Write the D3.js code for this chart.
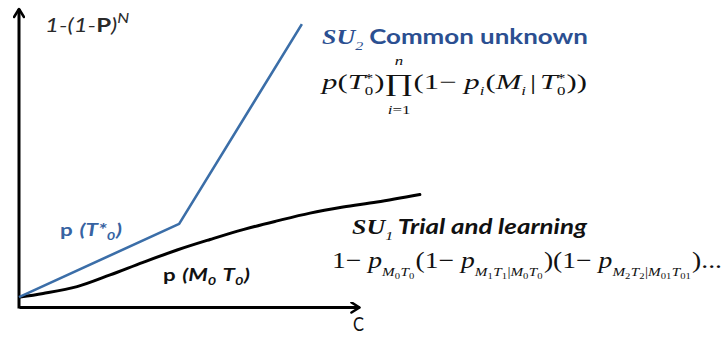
<!DOCTYPE html>
<html><head><meta charset="utf-8">
<script src="https://cdn.jsdelivr.net/npm/d3@7"></script>
<style>html,body{margin:0;padding:0;background:#fff;}svg{display:block;}</style>
</head><body>
<svg id="chart" width="726" height="343"></svg>
<script>
// ---- data (in chart units: C on x, probability index on y) ----
const su2C   = [0, 47.1, 83.2];          // "SU2 Common unknown" polyline, x values
const su2P   = [3.3, 27.7, 94.3];        // y values
const su1C   = [0.3, 7.1, 17.1, 26.8, 36.5, 46.5, 56.2, 65.9, 75.9, 85.6, 95.3, 105.3, 117.9];
const su1P   = [3.3, 4.5, 6.8, 10.7, 14.9, 19.0, 22.5, 25.8, 28.7, 31.3, 33.3, 35.0, 37.5];
const axisXLabel = "C";

const svg = d3.select("#chart");
const x = d3.scaleLinear().domain([0, 100]).range([19, 359]);
const y = d3.scaleLinear().domain([0, 100]).range([307, 7]);

const SERIF = "'Liberation Serif','Times New Roman',serif";
const SANS = "Lato,'Open Sans',sans-serif";
const BLUE_T = "#2b4f91", BLUE_L = "#3b6ea8";

// ---- axes ----
const defs = svg.append("defs");
defs.append("marker").attr("id","arr").attr("viewBox","0 0 12 12").attr("refX",10).attr("refY",6)
  .attr("markerWidth",12).attr("markerHeight",12).attr("markerUnits","userSpaceOnUse").attr("orient","auto")
  .append("path").attr("d","M2,1 L10,6 L2,11").attr("fill","none").attr("stroke","#000").attr("stroke-width",2.6)
  .attr("stroke-linecap","round").attr("stroke-linejoin","round");

const gx = svg.append("g").attr("transform",`translate(0,${y(0)})`)
  .call(d3.axisBottom(x).tickValues([]).tickSizeOuter(0));
gx.select(".domain").attr("stroke","#000").attr("stroke-width",3).attr("marker-end","url(#arr)");
const gy = svg.append("g").attr("transform",`translate(${x(0)},0)`)
  .call(d3.axisLeft(y).tickValues([]).tickSizeOuter(0));
gy.select(".domain").attr("stroke","#000").attr("stroke-width",3)
  .attr("d",`M0,${y(0)+1.5}V${y(100)+2}`).attr("marker-end","url(#arr)");

// ---- lines ----
const su1 = su1C.map((c,i)=>[c, su1P[i]]);
const su2 = su2C.map((c,i)=>[c, su2P[i]]);
svg.append("path").datum(su1).attr("fill","none").attr("stroke","#000").attr("stroke-width",3)
  .attr("stroke-linecap","round")
  .attr("d", d3.line().x(d=>x(d[0])).y(d=>y(d[1])).curve(d3.curveCatmullRom)(su1));
svg.append("path").datum(su2).attr("fill","none").attr("stroke",BLUE_L).attr("stroke-width",2.6)
  .attr("stroke-linejoin","round")
  .attr("d", d3.line().x(d=>x(d[0])).y(d=>y(d[1]))(su2));

// ---- math/text builder ----
function run(g, parts, x0, base, size, ctx){
  let cx = x0;
  for (const p of parts){
    if (typeof p === "string" || p.t !== undefined){
      const o = typeof p === "string" ? {t:p} : p;
      const el = g.append("text").attr("x",cx).attr("y",base).attr("font-size",size)
        .attr("font-family", o.f || ctx.f)
        .attr("font-style", o.it===undefined ? (ctx.it?"italic":"normal") : (o.it?"italic":"normal"))
        .attr("font-weight", o.b || ctx.b || "normal")
        .attr("fill", o.c || ctx.c)
        .text(o.t);
      cx += el.node().getComputedTextLength();
    } else if (p.sub || p.sup){
      const s = size*(p.k||0.62);
      let w1=0,w2=0;
      if (p.sup) w1 = run(g,p.sup,cx,base-size*(p.upd||0.42),s,ctx)-cx;
      if (p.sub) w2 = run(g,p.sub,cx,base+size*(p.dd||0.25),s,ctx)-cx;
      cx += Math.max(w1,w2) + size*0.03;
    } else if (p.op){
      const og = g.append("g");
      const big = og.append("text").attr("x",0).attr("y",base+size*0.1).attr("font-size",size*1.15)
        .attr("font-family",SERIF).attr("fill",ctx.c).text(p.op);
      const ow = big.node().getComputedTextLength();
      const ga = og.append("g"); const wa = run(ga,p.over,0,base-size*1.14,size*0.55,ctx);
      ga.attr("transform",`translate(${(ow-wa)/2},0)`);
      const gb = og.append("g"); const wb = run(gb,p.under,0,base+size*1.2,size*0.55,ctx);
      gb.attr("transform",`translate(${(ow-wb)/2},0)`);
      og.attr("transform",`translate(${cx},0)`);
      cx += ow;
    } else if (p.sp!==undefined){
      cx += p.sp*size;
    }
  }
  return cx;
}
function block(parts, x0, x1, base, size, ctx){
  const g = svg.append("g");
  const inner = g.append("g");
  const end = run(inner, parts, x0, base, size, ctx);
  const sx = (x1-x0)/(end-x0);
  inner.attr("transform",`translate(${x0},0) scale(${sx},1) translate(${-x0},0)`);
  return g;
}
const I = t => ({t, it:true});
const R = t => ({t, it:false});

// y-axis label: 1-(1-P)^N
block([{t:"1-(1-"},{t:"P",b:"bold",it:false},{t:")"},{sup:[{t:"N"}],upd:0.45,k:0.7}],
  45, 130, 32, 19, {f:SANS, it:true, c:"#2a2a2a", b:"normal"});

// x-axis label
block([{t:axisXLabel}], 353, 364, 331, 20, {f:SANS, it:false, c:"#111", b:"normal"});

// SU2 heading
block([{t:"SU",f:SERIF,it:true,b:"bold"},{sub:[{t:"2",f:SERIF,it:true,b:"normal"}],dd:0.28},{sp:0.2},
       {t:"Common unknown",f:SANS,it:false,b:"bold"}],
  322, 588, 44, 21, {f:SANS, c:BLUE_T});

// SU2 formula
const star0 = {sup:[R("*")], sub:[R("0")], upd:0.35, dd:0.3, k:0.55};
block([I("p"),R("("),I("T"),star0,R(")"),
       {op:"∏", over:[I("n")], under:[I("i"),R("=1")]},
       R("(1−"),{sp:0.25},I("p"),{sub:[I("i")],dd:0.3,k:0.55},R("("),I("M"),{sub:[I("i")],dd:0.3,k:0.55},
       {sp:0.1},R("|"),{sp:0.12},I("T"),star0,R("))")],
  322, 587, 89, 21, {f:SERIF, c:"#111"});

// SU1 heading
block([{t:"SU",f:SERIF,it:true,b:"bold"},{sub:[{t:"1",f:SERIF,it:true,b:"normal"}],dd:0.28},{sp:0.15},
       {t:"Trial and learning",f:SANS,it:true,b:"bold"}],
  352, 587, 234, 21, {f:SANS, c:"#111"});

// SU1 formula
const sb = (parts)=>({sub:parts, dd:0.35, k:0.55});
const ss = (t)=>({sub:[R(t)], dd:0.2, k:0.7});
block([R("1−"),{sp:0.25},I("p"),sb([I("M"),ss("0"),I("T"),ss("0")]),
       R("(1−"),{sp:0.25},I("p"),sb([I("M"),ss("1"),I("T"),ss("1"),R("|"),I("M"),ss("0"),I("T"),ss("0")]),
       R(")(1−"),{sp:0.25},I("p"),sb([I("M"),ss("2"),I("T"),ss("2"),R("|"),I("M"),ss("01"),I("T"),ss("01")]),
       R(")...")],
  332, 722, 268, 23, {f:SERIF, c:"#111"});

// curve labels
block([{t:"p",it:false},{sp:0.3},{t:"(T*"},{sub:[{t:"0"}],dd:0.25,k:0.65},{t:")"}],
  60, 122, 236, 17, {f:SANS, it:true, b:"bold", c:"#3763a2"});
block([{t:"p",it:false},{sp:0.3},{t:"(M"},{sub:[{t:"0"}],dd:0.25,k:0.65},{sp:0.25},{t:"T"},{sub:[{t:"0"}],dd:0.25,k:0.65},{t:")"}],
  163, 250, 281, 17, {f:SANS, it:true, b:"bold", c:"#111"});
</script>
</body></html>
